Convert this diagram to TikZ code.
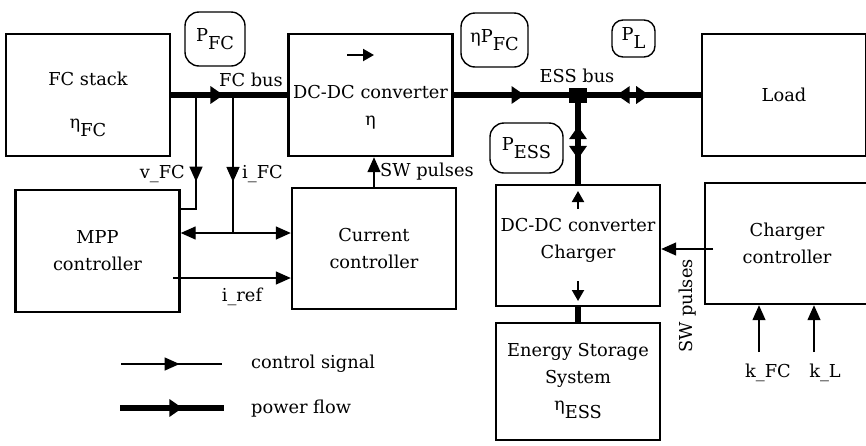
\documentclass[tikz,border=0pt]{standalone}
\usepackage{fontspec}
\setmainfont{DejaVu Serif}
\usetikzlibrary{arrows.meta,decorations.markings}

\newcommand{\lowsub}[1]{\raisebox{-0.45em}{#1}}

\begin{document}
\begin{tikzpicture}
[x=1pt,y=-1pt,
font=\fontsize{17.8}{27}\selectfont,
block/.style={draw,line width=2.4pt,minimum width=164pt,minimum height=122pt,align=center,inner sep=0pt},
tag/.style={draw,line width=1.4pt,rounded corners=14pt,inner sep=0pt},
lbl/.style={inner sep=1pt,align=center},
sig/.style={line width=1.4pt},
pwr/.style={line width=5.5pt},
sigtip/.tip={Triangle[length=15pt,width=13pt]},
pwrtip/.tip={Triangle[length=13pt,width=17pt]},
smalltip/.tip={Triangle[length=11pt,width=12pt]},
smid/.style={postaction={decorate,decoration={markings,mark=at position #1 with {\arrow{sigtip}}}}},
pmid/.style={postaction={decorate,decoration={markings,mark=at position #1 with {\arrow{pwrtip}}}}},
pback/.style={postaction={decorate,decoration={markings,mark=at position #1 with {\arrowreversed{pwrtip}}}}},
]
\useasboundingbox (0,0) rectangle (866,445);
% blocks
\node[block] (fcstack) at (88,95) {};
\node[lbl] (fcstacktxt) at (88,104) {FC stack\\[16pt]η\lowsub{FC}};
\node[block] (dcdc) at (370.5,95) {};
\node[lbl] (dcdctxt) at (370.5,107) {DC-DC converter\\η};
\node[block] (load) at (784,95) {Load};
\node[block] (mpp) at (97.5,251) {MPP\\controller};
\node[block,minimum height=121pt] (curr) at (374,248.5) {Current\\controller};
\node[block,minimum height=121pt] (charger) at (578,245.5) {};
\node[lbl] (chargertxt) at (578,240) {DC-DC converter\\Charger};
\node[block,minimum height=117pt] (ess) at (578,381.5) {Energy Storage\\System\\η\lowsub{ESS}};
\node[block,minimum height=121pt] (chctrl) at (787,243.5) {Charger\\controller};
% power tags
\node[tag,minimum width=60pt,minimum height=54pt] (pfc) at (215,39) {P\lowsub{FC}};
\node[tag,minimum width=67pt,minimum height=54pt] (etapfc) at (494.5,40) {ηP\lowsub{FC}};
\node[tag,minimum width=43pt,minimum height=37pt,rounded corners=11pt] (pl) at (633.5,38.5) {P\lowsub{L}};
\node[tag,minimum width=73pt,minimum height=50pt] (pess) at (526.5,148) {P\lowsub{ESS}};
% labels
\node[lbl] (fcbus) at (251,80) {FC bus};
\node[lbl] (essbus) at (577,76) {ESS bus};
\node[lbl,anchor=east] (vfc) at (186,174) {v\_FC};
\node[lbl,anchor=west] (ifc) at (241,174) {i\_FC};
\node[lbl,anchor=west] (swp) at (379,172) {SW pulses};
\node[lbl] (iref) at (242,297) {i\_ref};
\node[lbl,rotate=90] (swpch) at (688,306) {SW pulses};
\node[lbl] (kfc) at (768,373) {k\_FC};
\node[lbl] (kl) at (825,373) {k\_L};
\node[lbl,anchor=west] (sigtxt) at (250,364) {control signal};
\node[lbl,anchor=west] (pwrtxt) at (250,409) {power flow};
\node[fill,minimum width=18pt,minimum height=15pt,inner sep=0pt] (junc) at (578,95) {};
% free ends
\coordinate (vtap) at (196,95);
\coordinate (vbend) at (196,209);
\coordinate (itap) at (233,95);
\coordinate (ibot) at (233,233);
\coordinate (irefy) at (173,278);
\coordinate (swsrc) at (713,249);
\coordinate (kfcfoot) at (759,352);
\coordinate (klfoot) at (814,352);
\coordinate (sigA) at (121,364);
\coordinate (sigB) at (222,364);
\coordinate (pwrA) at (120,408);
\coordinate (pwrB) at (224,408);
% power flow
\draw[pwr,pmid=0.45] (fcstack.east) -- (dcdc.west);
\draw[pwr,pmid=0.57] (dcdc.east) -- (junc.center);
\draw[pwr,pback=0.315,pmid=0.58] (junc.center) -- (load.west);
\draw[pwr,pback=0.35,pmid=0.72] (junc.center) -- (charger.north);
\draw[pwr] (charger.south) -- (ess.north);
% control signals
\draw[sig,smid=0.67] (vtap) -- (vbend) -- (mpp.east |- vbend);
\draw[sig,smid=0.63] (itap) -- (ibot);
\draw[sig,sigtip-sigtip] (mpp.east |- ibot) -- (curr.west |- ibot);
\draw[sig,-sigtip] (irefy) -- (curr.west |- irefy);
\draw[sig,-sigtip] (curr.north) -- (curr.north |- dcdc.south);
\draw[sig,-sigtip] (swsrc) -- (charger.east |- swsrc);
\draw[sig,-sigtip] (kfcfoot) -- (kfcfoot |- chctrl.south);
\draw[sig,-sigtip] (klfoot) -- (klfoot |- chctrl.south);
% direction marks inside the converters
\draw[line width=2pt,-smalltip] (347,55) -- (374,55);
\draw[line width=2pt,-smalltip] (578,209) -- (578,191);
\draw[line width=2pt,-smalltip] (578,281) -- (578,301);
% legend
\draw[sig,smid=0.58] (sigA) -- (sigB);
\draw[pwr,pmid=0.6] (pwrA) -- (pwrB);
\end{tikzpicture}
\end{document}
